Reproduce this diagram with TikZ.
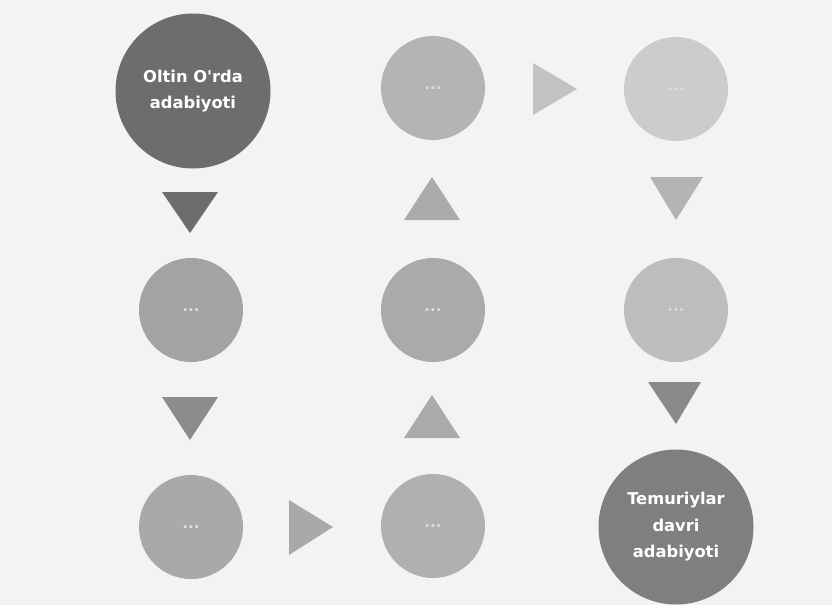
\documentclass[tikz,border=0pt]{standalone}
\usepackage{fontspec}
\setmainfont{DejaVu Sans}[Ligatures=TeXOff]
\definecolor{bgc}{HTML}{F3F3F3}
\definecolor{cA}{HTML}{6D6D6D}
\definecolor{cB}{HTML}{A3A3A3}
\definecolor{cC}{HTML}{A9A9A9}
\definecolor{cD}{HTML}{B0B0B0}
\definecolor{cE}{HTML}{AAAAAA}
\definecolor{cF}{HTML}{B4B4B4}
\definecolor{cG}{HTML}{CCCCCC}
\definecolor{cH}{HTML}{BDBDBD}
\definecolor{cI}{HTML}{7F7F7F}
\definecolor{dotc}{HTML}{DCDCDC}
\begin{document}
\begin{tikzpicture}[x=1pt,y=-1pt,
  bigcirc/.style={circle,minimum size=155pt,inner sep=0pt,align=center,text=white,
    font=\bfseries\fontsize{16.3}{26.5}\selectfont},
  smallcirc/.style={circle,minimum size=104pt,inner sep=0pt,text=dotc,
    font=\bfseries\fontsize{15}{16}\selectfont},
  tri/.style={draw=none}]
\useasboundingbox (0,0) rectangle (832,605);
\fill[bgc] (0,0) rectangle (832,605);
% circles
\node[bigcirc,fill=cA] (a) at (193,91) {Oltin O'rda\\adabiyoti};
\node[smallcirc,fill=cB] (b) at (191,310) {...};
\node[smallcirc,fill=cC] (c) at (191,527) {...};
\node[smallcirc,fill=cD] (d) at (433,526) {...};
\node[smallcirc,fill=cE] (e) at (433,310) {...};
\node[smallcirc,fill=cF] (f) at (433,88) {...};
\node[smallcirc,fill=cG] (g) at (676,89) {...};
\node[smallcirc,fill=cH] (h) at (676,310) {...};
\node[bigcirc,fill=cI] (i) at (676,527) {Temuriylar\\davri\\adabiyoti};
% triangles (flow markers)
\fill[tri,fill=cA] (162,192) -- (218,192) -- (190,233) -- cycle;
\fill[tri,fill=black!45] (162,397) -- (218,397) -- (190,440) -- cycle;
\fill[tri,fill=cC] (289,500) -- (289,555) -- (333,527) -- cycle;
\fill[tri,fill=cE] (404,438) -- (460,438) -- (432,395) -- cycle;
\fill[tri,fill=cE] (404,220) -- (460,220) -- (432,177) -- cycle;
\fill[tri,fill=cG!95!black] (533,63) -- (533,115) -- (577,89) -- cycle;
\fill[tri,fill=cF] (650,177) -- (703,177) -- (676,220) -- cycle;
\fill[tri,fill=black!46] (648,382) -- (701,382) -- (676,424) -- cycle;
\end{tikzpicture}
\end{document}
